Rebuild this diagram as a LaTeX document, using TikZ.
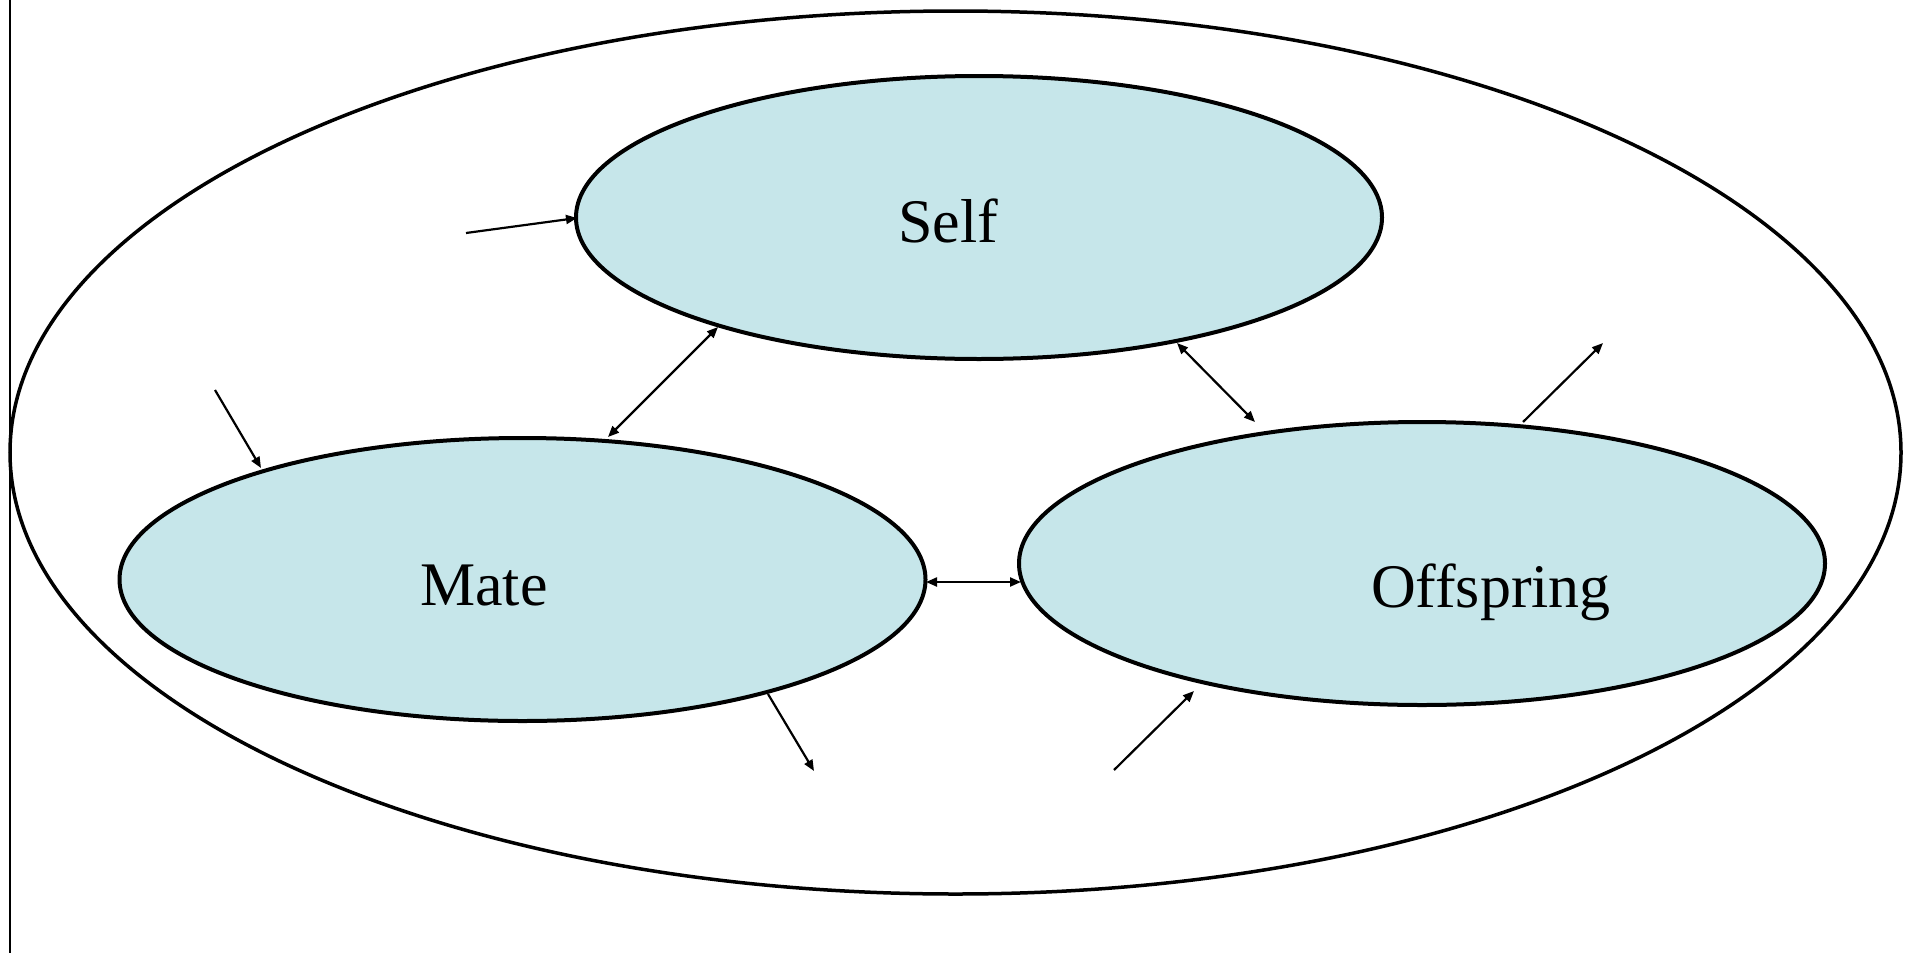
\documentclass[tikz,border=0pt]{standalone}
\usepackage{fontspec}
\setmainfont{Liberation Serif}
\usetikzlibrary{shapes.geometric,arrows.meta}
\definecolor{bubble}{RGB}{198,230,234}
\tikzset{
  bubble/.style={ellipse, draw=black, line width=4pt, fill=bubble, inner sep=0pt, minimum width=806pt, minimum height=283pt},
  outer/.style={ellipse, draw=black, line width=3.5pt, inner sep=0pt},
  lab/.style={anchor=base, inner sep=0pt, font=\fontsize{62}{70}\selectfont},
  link/.style={line width=2.2pt, -{Triangle[length=11pt,width=9pt]}},
  dlink/.style={line width=2.2pt, {Triangle[length=11pt,width=9pt]}-{Triangle[length=11pt,width=9pt]}}
}
\begin{document}
\begin{tikzpicture}[x=1pt,y=-1pt]
\useasboundingbox (0,0) rectangle (1913,953);
\coordinate (vt) at (10,0);
\coordinate (vb) at (10,953);
\draw[line width=1.5pt] (vt) -- (vb);
\node[outer, minimum width=1891pt, minimum height=883pt] (world) at (955.5,452.5) {};
\node[bubble] (self) at (979,217.5) {};
\node[bubble] (mate) at (522.5,579.5) {};
\node[bubble] (off) at (1422,563.5) {};
\node[lab] (tself) at (948,242) {Self};
\node[lab] (tmate) at (484,605) {Mate};
\node[lab] (toff) at (1491,607) {Offspring};
% endpoints
\coordinate (a1) at (466,233); \coordinate (a2) at (577,218);
\coordinate (b1) at (215,390); \coordinate (b2) at (261,468);
\coordinate (c1) at (718,327); \coordinate (c2) at (608,437);
\coordinate (d1) at (1177,343); \coordinate (d2) at (1255,422);
\coordinate (e1) at (926,582); \coordinate (e2) at (1021,582);
\coordinate (f1) at (1523,422); \coordinate (f2) at (1603,343);
\coordinate (g1) at (768,694); \coordinate (g2) at (814,771);
\coordinate (h1) at (1114,770); \coordinate (h2) at (1194,691);
\draw[link] (a1) -- (a2);
\draw[link] (b1) -- (b2);
\draw[dlink] (c1) -- (c2);
\draw[dlink] (d1) -- (d2);
\draw[dlink] (e1) -- (e2);
\draw[link] (f1) -- (f2);
\draw[link] (g1) -- (g2);
\draw[link] (h1) -- (h2);
\end{tikzpicture}
\end{document}
